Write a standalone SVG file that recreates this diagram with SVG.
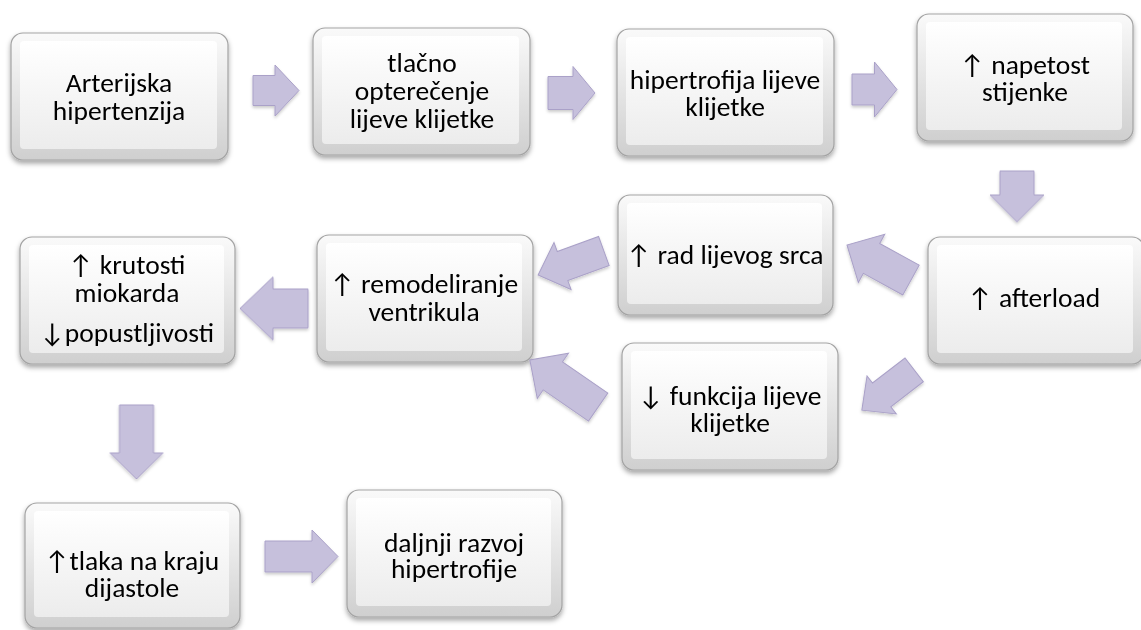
<svg xmlns="http://www.w3.org/2000/svg" width="1141" height="630" viewBox="0 0 1141 630">
<style>
.box{fill:url(#outer);stroke:#a3a3a3;stroke-width:1.2}
.face{fill:url(#inner)}
.t{font-family:Carlito,"Open Sans","Liberation Sans",sans-serif;font-size:27.5px;fill:#000;text-anchor:middle}
.arr{fill:#c6c0dc;stroke:#aaa1c8;stroke-width:1}
</style>
<defs>
<linearGradient id="outer" x1="0" y1="0" x2="0" y2="1">
<stop offset="0" stop-color="#fafafa"/>
<stop offset="1" stop-color="#cfcfcf"/>
</linearGradient>
<linearGradient id="inner" x1="0" y1="0" x2="0" y2="1">
<stop offset="0" stop-color="#ffffff"/>
<stop offset="1" stop-color="#ececec"/>
</linearGradient>
<filter id="sh" x="-10%" y="-10%" width="120%" height="130%">
<feDropShadow dx="0" dy="3" stdDeviation="2.5" flood-color="#000" flood-opacity="0.35"/>
</filter>
<filter id="ash" x="-20%" y="-20%" width="140%" height="140%">
<feDropShadow dx="0" dy="2" stdDeviation="1.5" flood-color="#000" flood-opacity="0.2"/>
</filter>
</defs>
<rect width="1141" height="630" fill="#fff"/>

<g id="n1" filter="url(#sh)">
<rect class="box" x="11" y="33" width="217" height="127" rx="12"/>
<rect class="face" x="20" y="41" width="197" height="108" rx="4"/>
<text class="t"><tspan x="119" y="92">Arterijska</tspan><tspan x="119" y="120">hipertenzija</tspan></text>
</g>
<g id="n2" filter="url(#sh)">
<rect class="box" x="313" y="28" width="217" height="127" rx="12"/>
<rect class="face" x="322" y="36" width="197" height="108" rx="4"/>
<text class="t"><tspan x="422" y="72">tlačno</tspan><tspan x="422" y="100">opterečenje</tspan><tspan x="422" y="128">lijeve klijetke</tspan></text>
</g>
<g id="n3" filter="url(#sh)">
<rect class="box" x="617" y="29" width="217" height="127" rx="12"/>
<rect class="face" x="626" y="37" width="197" height="108" rx="4"/>
<text class="t"><tspan x="725" y="89">hipertrofija lijeve</tspan><tspan x="725" y="116">klijetke</tspan></text>
</g>
<g id="n4" filter="url(#sh)">
<rect class="box" x="917" y="14" width="216" height="127" rx="12"/>
<rect class="face" x="926" y="22" width="196" height="108" rx="4"/>
<text class="t"><tspan x="1025" y="74">↑ napetost</tspan><tspan x="1025" y="101">stijenke</tspan></text>
</g>
<g id="n5" filter="url(#sh)">
<rect class="box" x="928" y="237" width="216" height="127" rx="12"/>
<rect class="face" x="937" y="245" width="196" height="108" rx="4"/>
<text class="t" x="1034" y="307">↑ afterload</text>
</g>
<g id="n6" filter="url(#sh)">
<rect class="box" x="618" y="195" width="215" height="120" rx="12"/>
<rect class="face" x="627" y="203" width="195" height="101" rx="4"/>
<text class="t" x="725" y="264">↑ rad lijevog srca</text>
</g>
<g id="n7" filter="url(#sh)">
<rect class="box" x="622" y="343" width="216" height="127" rx="12"/>
<rect class="face" x="631" y="351" width="196" height="108" rx="4"/>
<text class="t"><tspan x="730" y="405">↓ funkcija lijeve</tspan><tspan x="730" y="432">klijetke</tspan></text>
</g>
<g id="n8" filter="url(#sh)">
<rect class="box" x="317" y="235" width="216" height="127" rx="12"/>
<rect class="face" x="326" y="243" width="196" height="108" rx="4"/>
<text class="t"><tspan x="424" y="293">↑ remodeliranje</tspan><tspan x="424" y="321">ventrikula</tspan></text>
</g>
<g id="n9" filter="url(#sh)">
<rect class="box" x="20" y="237" width="215" height="127" rx="12"/>
<rect class="face" x="29" y="245" width="195" height="108" rx="4"/>
<text class="t"><tspan x="127" y="274">↑ krutosti</tspan><tspan x="127" y="302">miokarda</tspan><tspan x="127" y="342">↓popustljivosti</tspan></text>
</g>
<g id="n10" filter="url(#sh)">
<rect class="box" x="25" y="503" width="215" height="125" rx="12"/>
<rect class="face" x="34" y="511" width="195" height="106" rx="4"/>
<text class="t"><tspan x="132" y="570">↑tlaka na kraju</tspan><tspan x="132" y="597">dijastole</tspan></text>
</g>
<g id="n11" filter="url(#sh)">
<rect class="box" x="347" y="490" width="215" height="127" rx="12"/>
<rect class="face" x="356" y="498" width="195" height="108" rx="4"/>
<text class="t"><tspan x="454" y="552">daljnji razvoj</tspan><tspan x="454" y="578">hipertrofije</tspan></text>
</g>

<g id="connectors" filter="url(#ash)">
<path class="arr" transform="translate(276,90.5)" d="M-23,-15 H-1 V-25.5 L23,0 L-1,25.5 V15 H-23 Z"/>
<path class="arr" transform="translate(571.5,93)" d="M-23.5,-16.5 H1.5 V-26.5 L23.5,0 L1.5,26.5 V16.5 H-23.5 Z"/>
<path class="arr" transform="translate(874.5,89.5)" d="M-22.5,-15.5 H0 V-27.5 L22.5,0 L0,27.5 V15.5 H-22.5 Z"/>
<path class="arr" transform="translate(1017,196.5) rotate(90)" d="M-25.5,-17 H-1.5 V-27 L25.5,0 L-1.5,27 V17 H-25.5 Z"/>
<path class="arr" transform="translate(879,262.5) rotate(208.7)" d="M-36.5,-17 H8.5 V-27.5 L36.5,0 L8.5,27.5 V17 H-36.5 Z"/>
<path class="arr" transform="translate(888,390) rotate(142.4)" d="M-33,-15 H8 V-24 L33,0 L8,24 V15 H-33 Z"/>
<path class="arr" transform="translate(571,263) rotate(160)" d="M-35,-15.5 H9 V-25 L35,0 L9,25 V15.5 H-35 Z"/>
<path class="arr" transform="translate(564,383.5) rotate(214.6)" d="M-41.5,-17 H13.5 V-27.5 L41.5,0 L13.5,27.5 V17 H-41.5 Z"/>
<path class="arr" transform="translate(274,308.5) rotate(180)" d="M-34,-19.5 H1 V-31.5 L34,0 L1,31.5 V19.5 H-34 Z"/>
<path class="arr" transform="translate(136.5,442) rotate(90)" d="M-37,-17 H11 V-26.5 L37,0 L11,26.5 V17 H-37 Z"/>
<path class="arr" transform="translate(301.5,556.5)" d="M-36.5,-15.5 H10.5 V-26.5 L36.5,0 L10.5,26.5 V15.5 H-36.5 Z"/>
</g>
</svg>
